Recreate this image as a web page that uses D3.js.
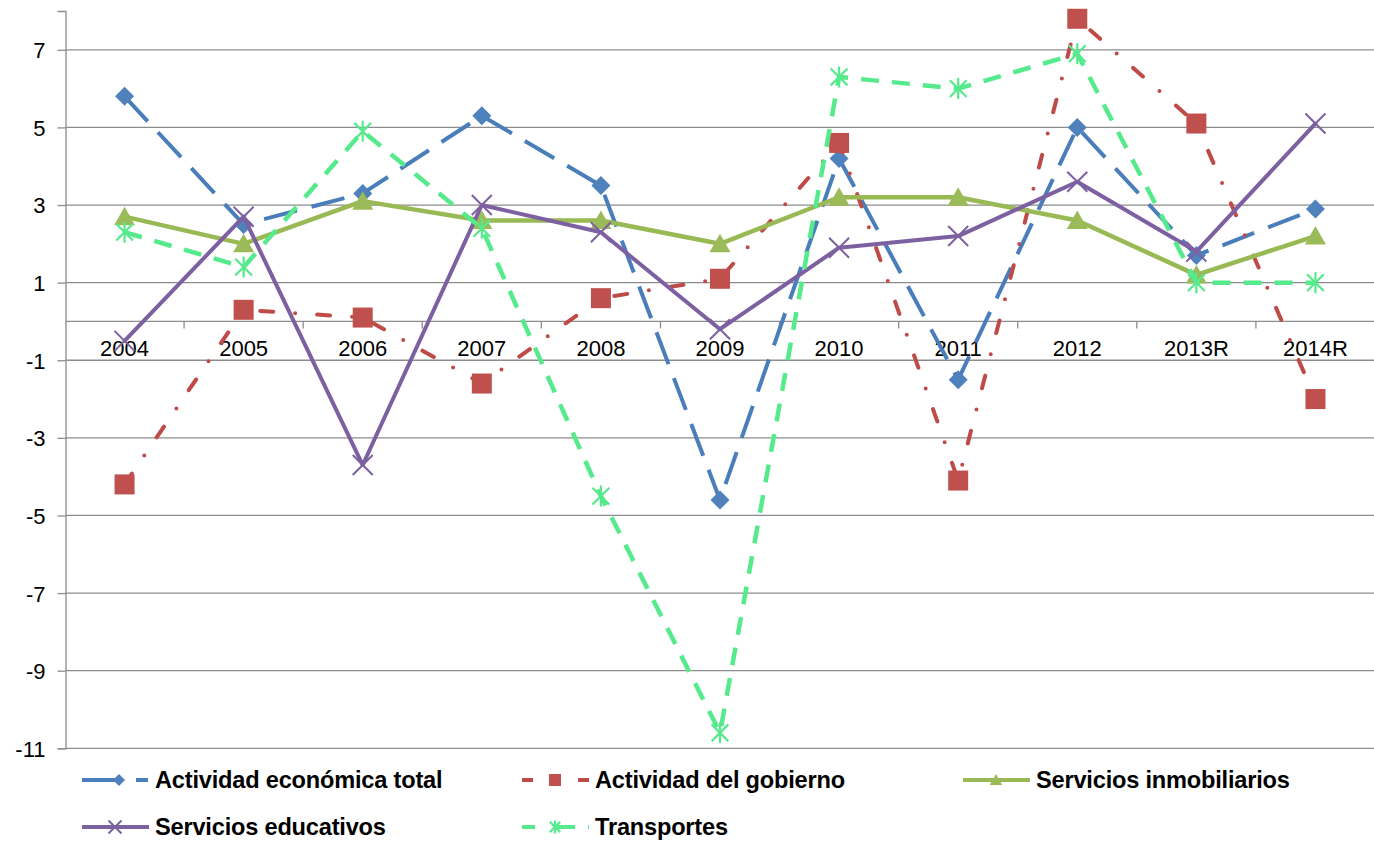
<!DOCTYPE html>
<html>
<head>
<meta charset="utf-8">
<script src="https://cdn.jsdelivr.net/npm/d3@7"></script>
<style>
  html, body { margin: 0; padding: 0; background: #ffffff; }
  svg { display: block; }
</style>
</head>
<body>
<svg id="chart" width="1374" height="846"></svg>
<script>
// ---- Data ----
const categories = ["2004","2005","2006","2007","2008","2009","2010","2011","2012","2013R","2014R"];
const actividadTotal = [5.8, 2.5, 3.3, 5.3, 3.5, -4.6, 4.2, -1.5, 5.0, 1.7, 2.9];
const actividadGobierno = [-4.2, 0.3, 0.1, -1.6, 0.6, 1.1, 4.6, -4.1, 7.8, 5.1, -2.0];
const serviciosInmobiliarios = [2.7, 2.0, 3.1, 2.6, 2.6, 2.0, 3.2, 3.2, 2.6, 1.2, 2.2];
const serviciosEducativos = [-0.5, 2.7, -3.7, 3.0, 2.3, -0.2, 1.9, 2.2, 3.6, 1.8, 5.1];
const transportes = [2.3, 1.4, 4.9, 2.4, -4.5, -10.6, 6.3, 6.0, 6.9, 1.0, 1.0];
const yTicks = [-11, -9, -7, -5, -3, -1, 1, 3, 5, 7];
const seriesNames = ["Actividad económica total", "Actividad del gobierno", "Servicios inmobiliarios", "Servicios educativos", "Transportes"];

// ---- Styles ----
const seriesStyle = [
  { values: actividadTotal, color: "#4A7EBB", fill: "#4F81BD", width: 4, dash: "34 15", cap: "butt", marker: "diamond" },
  { values: actividadGobierno, color: "#BE4B48", fill: "#C0504D", width: 4, dash: "13 22 0 22", cap: "round", marker: "square" },
  { values: serviciosInmobiliarios, color: "#98B954", fill: "#9BBB59", width: 4.5, dash: null, cap: "round", marker: "triangle" },
  { values: serviciosEducativos, color: "#7D60A0", fill: "#7D60A0", width: 4, dash: null, cap: "round", marker: "x" },
  { values: transportes, color: "#55EA8C", fill: "#55EA8C", width: 4.5, dash: "18 13", cap: "butt", marker: "star" }
];

const svg = d3.select("#chart");
const axisX = 65.5;
const x = d3.scaleBand().domain(categories).range([65, 1375]);
const y = d3.scaleLinear().domain([-11, 8]).range([748.3, 11]);
const cx = c => x(c) + x.bandwidth() / 2;
const gridColor = "#8C8C8C";
const font = "'Liberation Sans', Arial, sans-serif";

// Gridlines
svg.append("g").selectAll("line").data(yTicks).join("line")
  .attr("x1", axisX).attr("x2", 1374)
  .attr("y1", d => y(d)).attr("y2", d => y(d))
  .attr("stroke", gridColor).attr("stroke-width", 1.3);

// Y axis
const yAxis = d3.axisLeft(y).tickValues(yTicks).tickSize(8).tickPadding(12).tickFormat(d => String(d));
const yg = svg.append("g").attr("transform", `translate(${axisX},0)`).call(yAxis);
yg.select(".domain").attr("stroke", gridColor).attr("stroke-width", 1.3);
yg.selectAll(".tick line").attr("stroke", gridColor).attr("stroke-width", 1.3);
yg.selectAll(".tick text").attr("font-family", font).attr("font-size", 22).attr("fill", "#000").attr("dy", "0.36em");

// X axis line at zero with tick marks at band boundaries
svg.append("line").attr("x1", axisX).attr("x2", 1374).attr("y1", y(0)).attr("y2", y(0))
  .attr("stroke", gridColor).attr("stroke-width", 1.3);
svg.append("g").selectAll("line").data(categories.slice(1)).join("line")
  .attr("x1", d => x(d)).attr("x2", d => x(d))
  .attr("y1", y(0)).attr("y2", y(0) + 7)
  .attr("stroke", gridColor).attr("stroke-width", 1.3);

// Category labels
svg.append("g").selectAll("text").data(categories).join("text")
  .attr("x", d => cx(d)).attr("y", y(0) + 35)
  .attr("text-anchor", "middle")
  .attr("font-family", font).attr("font-size", 22).attr("fill", "#000")
  .text(d => d);

// Marker drawing
function drawMarker(g, type, color, s) {
  if (type === "diamond") {
    g.append("path").attr("d", `M0,${-s}L${s},0L0,${s}L${-s},0Z`).attr("fill", color);
  } else if (type === "square") {
    g.append("rect").attr("x", -s).attr("y", -s).attr("width", 2 * s).attr("height", 2 * s).attr("fill", color);
  } else if (type === "triangle") {
    g.append("path").attr("d", `M0,${-s}L${s * 1.05},${s * 0.85}L${-s * 1.05},${s * 0.85}Z`).attr("fill", color);
  } else if (type === "x") {
    g.append("path").attr("d", `M${-s},${-s}L${s},${s}M${-s},${s}L${s},${-s}`)
      .attr("stroke", color).attr("stroke-width", 2).attr("fill", "none");
  } else if (type === "star") {
    g.append("path").attr("d", `M${-s * 0.8},${-s * 0.8}L${s * 0.8},${s * 0.8}M${-s * 0.8},${s * 0.8}L${s * 0.8},${-s * 0.8}M0,${-s}L0,${s}`)
      .attr("stroke", color).attr("stroke-width", 2.2).attr("fill", "none");
  }
}

const markerSize = { diamond: 9.5, square: 10, triangle: 10, x: 10, star: 10.5 };

// Series lines
const line = d3.line().x((d, i) => cx(categories[i])).y(d => y(d));
seriesStyle.forEach(s => {
  svg.append("path").datum(s.values)
    .attr("d", line)
    .attr("fill", "none")
    .attr("stroke", s.color)
    .attr("stroke-width", s.width)
    .attr("stroke-linecap", s.cap)
    .attr("stroke-linejoin", "round")
    .attr("stroke-dasharray", s.dash);
  const mg = svg.append("g");
  s.values.forEach((v, i) => {
    const g = mg.append("g").attr("transform", `translate(${cx(categories[i])},${y(v)})`);
    drawMarker(g, s.marker, s.fill, markerSize[s.marker]);
  });
});

// Legend
const legendPos = [
  { x: 82, y: 780 }, { x: 522, y: 780 }, { x: 963, y: 780 },
  { x: 82, y: 827 }, { x: 522, y: 827 }
];
seriesStyle.forEach((s, i) => {
  const p = legendPos[i];
  const g = svg.append("g").attr("transform", `translate(${p.x},${p.y})`);
  g.append("line").attr("x1", 0).attr("x2", 67).attr("y1", 0).attr("y2", 0)
    .attr("stroke", s.color).attr("stroke-width", 4)
    .attr("stroke-linecap", "butt")
    .attr("stroke-dasharray", s.marker === "diamond" ? "36 18 12" : s.marker === "square" ? "11 45 13" : s.marker === "star" ? "13 22 18" : null);
  const m = g.append("g").attr("transform", `translate(${s.marker === "diamond" ? 37 : 33},0)`);
  drawMarker(m, s.marker, s.fill, s.marker === "x" || s.marker === "star" ? 6.5 : 6);
  g.append("text")
    .attr("x", 73).attr("y", 8)
    .attr("font-family", font).attr("font-size", 23.6).attr("font-weight", "bold")
    .attr("fill", "#000").attr("letter-spacing", -0.2)
    .text(seriesNames[i]);
});
</script>
</body>
</html>
